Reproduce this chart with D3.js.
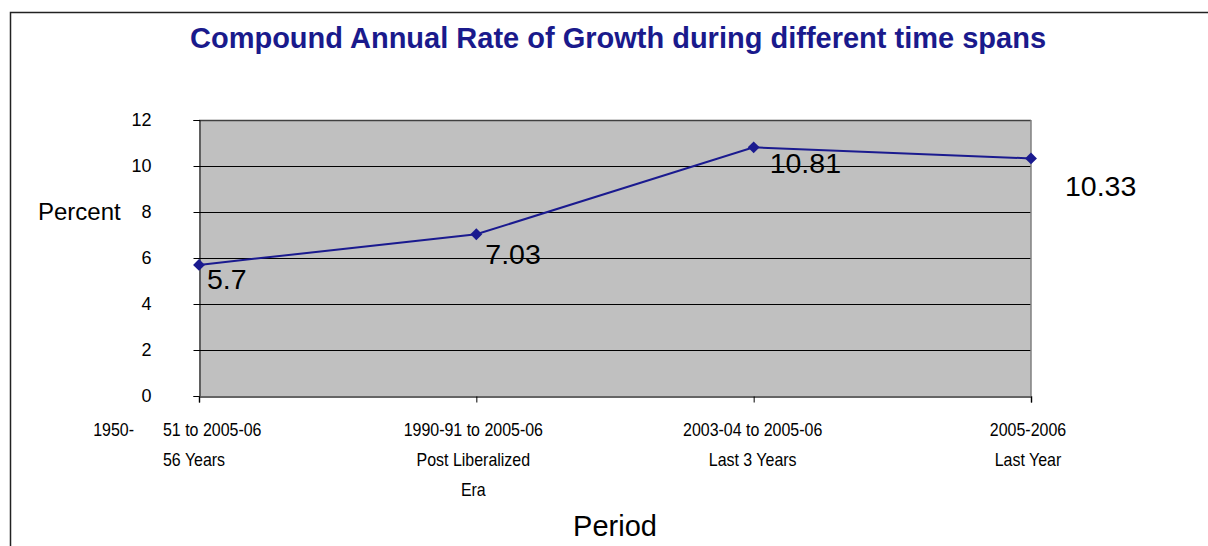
<!DOCTYPE html>
<html><head><meta charset="utf-8">
<script src="https://cdn.jsdelivr.net/npm/d3@7"></script>
<style>
html,body{margin:0;padding:0;background:#fff;}
svg{display:block;}
text{font-family:"Liberation Sans",Arial,sans-serif;}
</style></head>
<body>
<script>
const categories = ["1950-51 to 2005-06", "1990-91 to 2005-06", "2003-04 to 2005-06", "2005-2006"];
const subLabels = [["56 Years"], ["Post Liberalized", "Era"], ["Last 3 Years"], ["Last Year"]];
const values = [5.7, 7.03, 10.81, 10.33];
const yTicks = [0, 2, 4, 6, 8, 10, 12];
const title = "Compound Annual Rate of Growth during different time spans";
const yTitle = "Percent";
const xTitle = "Period";

const W = 1208, H = 546;
const m = {left: 199, right: 1031, top: 120, bottom: 396};
const svg = d3.select("body").append("svg").attr("width", W).attr("height", H);

// outer chart border
svg.append("rect").attr("x", 10.5).attr("y", 12.5).attr("width", W + 20).attr("height", H + 20)
  .attr("fill", "#fff").attr("stroke", "#222").attr("stroke-width", 1.5);

const x = d3.scalePoint().domain(d3.range(categories.length)).range([m.left, m.right]).padding(0);
const y = d3.scaleLinear().domain([0, 12]).range([m.bottom, m.top]);

// plot area
svg.append("rect").attr("x", m.left).attr("y", m.top).attr("width", m.right - m.left).attr("height", m.bottom - m.top)
  .attr("fill", "#c0c0c0");

// grid lines
svg.append("g").selectAll("line").data(yTicks.filter(t => t > 0 && t < 12)).join("line")
  .attr("x1", m.left).attr("x2", m.right)
  .attr("y1", d => Math.round(y(d)) + 0.5).attr("y2", d => Math.round(y(d)) + 0.5)
  .attr("stroke", "#000").attr("stroke-width", 1);

// plot border top/right
svg.append("line").attr("x1", m.left).attr("x2", m.right).attr("y1", m.top + 0.5).attr("y2", m.top + 0.5)
  .attr("stroke", "#404040").attr("stroke-width", 1.5);
svg.append("line").attr("x1", m.right).attr("x2", m.right).attr("y1", m.top).attr("y2", m.bottom)
  .attr("stroke", "#808080").attr("stroke-width", 1.5);

// y axis
const yAxis = d3.axisLeft(y).tickValues(yTicks).tickSize(6).tickPadding(42).tickFormat(d3.format("d"));
const ya = svg.append("g").attr("transform", `translate(${m.left + 0.5},0)`).call(yAxis);
ya.select(".domain").attr("stroke", "#000");
ya.selectAll(".tick line").attr("stroke", "#000");
ya.selectAll(".tick text").attr("font-size", 18).attr("fill", "#000").attr("font-family", "Liberation Sans, Arial, sans-serif");

// x axis
const xAxis = d3.axisBottom(x).tickSize(6).tickFormat("");
const xa = svg.append("g").attr("transform", `translate(0,${m.bottom + 0.5})`).call(xAxis);
xa.select(".domain").attr("stroke", "#333").attr("stroke-width", 1.5);
xa.selectAll(".tick line").attr("stroke", "#000");

// x tick labels (multi-line, condensed)
const lab = svg.append("g").attr("font-size", 18).attr("fill", "#000");
const lineY = [436, 466, 496];
const sx = 0.887;
function put(px, py, anchor, str) {
  lab.append("text").attr("transform", `translate(${px},${py}) scale(${sx},1)`)
    .attr("text-anchor", anchor).text(str);
}
categories.forEach((c, i) => {
  const cx = x(i);
  if (i === 0) {
    const k = c.indexOf("-");
    put(cx - 65, lineY[0], "end", c.slice(0, k + 1));
    put(cx - 36, lineY[0], "start", c.slice(k + 1));
    subLabels[i].forEach((s, j) => put(cx - 36, lineY[j + 1], "start", s));
  } else {
    const dx = i === 1 ? -3 : (i === 2 ? -1 : -3);
    put(cx + dx, lineY[0], "middle", c);
    subLabels[i].forEach((s, j) => put(cx + dx, lineY[j + 1], "middle", s));
  }
});

// line
const line = d3.line().x((d, i) => x(i)).y(d => y(d));
svg.append("path").datum(values).attr("d", line).attr("fill", "none").attr("stroke", "#1a1a8f").attr("stroke-width", 2);

// markers
svg.append("g").selectAll("path").data(values).join("path")
  .attr("d", d3.symbol().type(d3.symbolDiamond2).size(90))
  .attr("transform", (d, i) => `translate(${x(i)},${y(d)})`)
  .attr("fill", "#1a1a8f");

// data labels
const labelOff = [[8, 24], [9, 30], [16, 26], [34, 38]];
svg.append("g").selectAll("text").data(values).join("text")
  .attr("x", (d, i) => x(i) + labelOff[i][0])
  .attr("y", (d, i) => y(d) + labelOff[i][1])
  .attr("font-size", 28.5).attr("fill", "#000")
  .text(d => d);

// title
svg.append("text").attr("x", 618).attr("y", 48).attr("text-anchor", "middle")
  .attr("font-size", 29).attr("font-weight", "bold").attr("fill", "#1a1a8c").text(title);

// axis titles
svg.append("text").attr("x", 38).attr("y", 220).attr("font-size", 24).attr("fill", "#000").text(yTitle);
svg.append("text").attr("x", 615).attr("y", 536).attr("text-anchor", "middle").attr("font-size", 29).attr("fill", "#000").text(xTitle);
</script>
</body></html>
